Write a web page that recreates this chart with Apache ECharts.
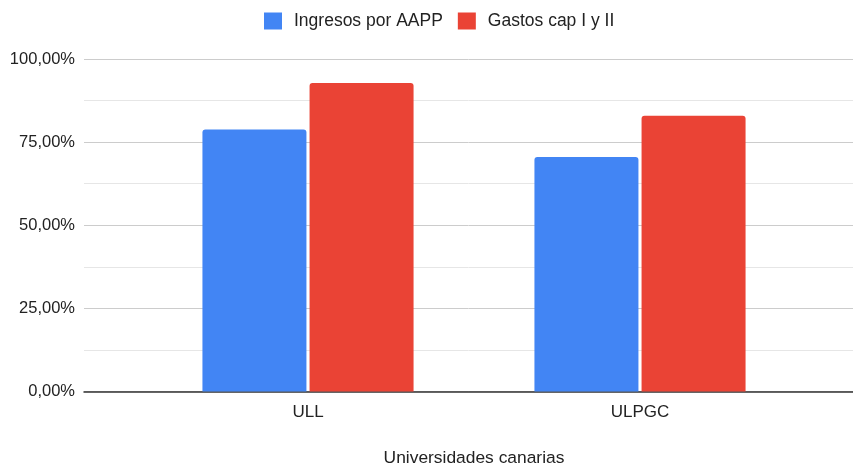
<!DOCTYPE html>
<html>
<head>
<meta charset="utf-8">
<script src="https://cdn.jsdelivr.net/npm/echarts@6/dist/echarts.min.js"></script>
<style>
  html, body { margin: 0; padding: 0; background: #fff; }
  #chart { width: 853px; height: 466px; }
</style>
</head>
<body>
<div id="chart"></div>
<script>
var categories = ['ULL', 'ULPGC'];
var ingresos = [78.8, 70.5];
var gastos = [92.8, 82.9];
var yTicks = [0, 25, 50, 75, 100];

var chart = echarts.init(document.getElementById('chart'));

function pct(v) {
    return v.toFixed(2).replace('.', ',') + '%';
}

var font = 'Liberation Sans';

var option = {
    textStyle: { fontFamily: font },
    legend: {
        top: 7,
        left: 259,
        itemWidth: 18,
        itemHeight: 17,
        itemGap: 15,
        icon: 'rect',
        textStyle: { fontSize: 17.5, color: '#222', fontFamily: font, padding: [0, 0, 0, 7] },
        data: ['Ingresos por AAPP', 'Gastos cap I y II']
    },
    grid: [
        { left: 84, right: 0, top: 59, bottom: 74.5, outerBoundsMode: 'none' },
        { left: 142, right: 47, top: 59, bottom: 74.5, outerBoundsMode: 'none' }
    ],
    xAxis: [
        {
            gridIndex: 0, type: 'value', min: 0, max: 1,
            axisLine: { show: true, onZero: false, lineStyle: { color: '#333', width: 1.5 } },
            axisTick: { show: false }, axisLabel: { show: false }, splitLine: { show: false }
        },
        {
            gridIndex: 1, type: 'category', data: categories,
            axisLine: { show: false }, axisTick: { show: false },
            axisLabel: { color: '#222', fontSize: 17, margin: 12 },
            name: 'Universidades canarias', nameLocation: 'middle', nameGap: 58,
            nameTextStyle: { color: '#222', fontSize: 17.4 }
        }
    ],
    yAxis: [
        {
            gridIndex: 0, type: 'value', min: yTicks[0], max: yTicks[yTicks.length - 1], interval: 25,
            axisLine: { show: false }, axisTick: { show: false },
            axisLabel: { color: '#222', fontSize: 16.5, margin: 9, formatter: pct },
            splitLine: { show: true, lineStyle: { color: '#ccc', width: 1 } },
            minorTick: { show: false, splitNumber: 2 },
            minorSplitLine: { show: true, lineStyle: { color: '#e6e6e6', width: 1 } }
        },
        {
            gridIndex: 1, type: 'value', min: 0, max: 100,
            show: false, splitLine: { show: false }
        }
    ],
    series: [
        {
            name: 'Ingresos por AAPP', type: 'bar', xAxisIndex: 1, yAxisIndex: 1,
            data: ingresos, barWidth: 104, barGap: '3%',
            itemStyle: { color: '#4285F4', borderRadius: [3, 3, 0, 0] }
        },
        {
            name: 'Gastos cap I y II', type: 'bar', xAxisIndex: 1, yAxisIndex: 1,
            data: gastos, barWidth: 104, barGap: '3%',
            itemStyle: { color: '#EA4335', borderRadius: [3, 3, 0, 0] }
        }
    ]
};

chart.setOption(option);
</script>
</body>
</html>
